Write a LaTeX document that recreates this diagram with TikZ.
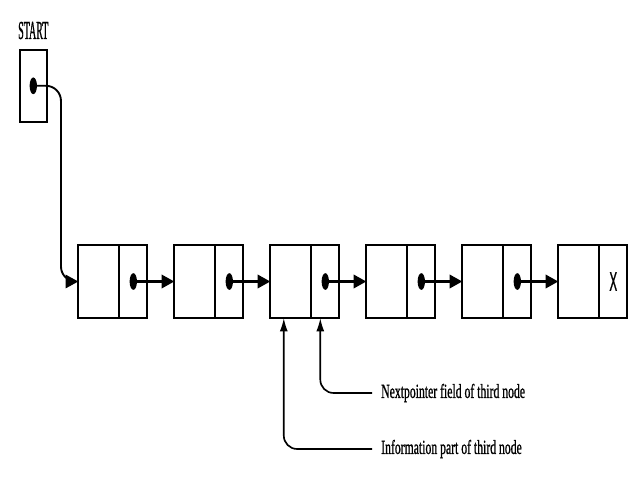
\documentclass[tikz,border=0pt]{standalone}
\usepackage{fontspec}
\setmainfont{Liberation Serif}
\setsansfont{Liberation Sans}
\newfontfamily\scanfont{Liberation Serif}[FakeBold = 1.4]
\newfontfamily\scansans{Liberation Sans}[FakeBold = 1.2]
\usetikzlibrary{positioning}
\usetikzlibrary{arrows.meta}

\begin{document}
\begin{tikzpicture}[
    x = 0.3mm, y = -0.3mm,
    node distance = 8.1mm,
    cell/.style = {shape = rectangle, draw = black, line width = 1.5pt, minimum height = 21.9mm, inner sep = 0pt, outer sep = 0pt},
    info/.style = {cell, minimum width = 12.3mm},
    ptr/.style = {cell, minimum width = 8.4mm, path picture = {\fill (path picture bounding box.center) ellipse [x radius = 1.1mm, y radius = 2.5mm];}},
    link/.style = {line width = 2.1pt, -{Triangle[length = 3.8mm, width = 4mm]}},
    note/.style = {line width = 1.4pt, rounded corners = 4mm, -{Latex[length = 4mm, width = 2.4mm]}},
    remark/.style = {anchor = west, inner xsep = 2.7mm, font = \scanfont\fontsize{10}{12}\selectfont, yscale = 1.7},
    ]
    \useasboundingbox (0,0) rectangle (640,480);

    \node[ptr, minimum width = 8mm, minimum height = 21.5mm] (S) at (33.3, 85.8) [label = {[font = \scanfont\fontsize{8.5}{10}\selectfont, yscale = 2.6, label distance = 0mm]above:START}] {};

    \node[info] (I1) at (98.8, 281.5) {};
    \node[ptr] (P1) [right = 0mm of I1] {};
    \node[info] (I2) [right = of P1] {};
    \node[ptr] (P2) [right = 0mm of I2] {};
    \node[info] (I3) [right = of P2] {};
    \node[ptr] (P3) [right = 0mm of I3] {};
    \node[info] (I4) [right = of P3] {};
    \node[ptr] (P4) [right = 0mm of I4] {};
    \node[info] (I5) [right = of P4] {};
    \node[ptr] (P5) [right = 0mm of I5] {};
    \node[info] (I6) [right = of P5] {};
    \node[cell, minimum width = 8.4mm] (P6) [right = 0mm of I6] {\scalebox{1}[2.3]{\scansans X}};

    \draw[link, line width = 1.6pt, rounded corners = 4.5mm] (S.center) -| ([xshift = -5.2mm]I1.west) -- (I1.west);
    \path[link] (P1.center) edge (I2.west);
    \path[link] (P2.center) edge (I3.west);
    \path[link] (P3.center) edge (I4.west);
    \path[link] (P4.center) edge (I5.west);
    \path[link] (P5.center) edge (I6.west);

    \node[remark] (N) at (372, 393) {Nextpointer field of third node};
    \node[remark] (F) at (372, 449) {Information part of third node};
    \draw[note] (N.west) -| ([xshift = -1.5mm]P3.south);
    \draw[note] (F.west) -| ([xshift = -2.1mm]I3.south);
\end{tikzpicture}
\end{document}
